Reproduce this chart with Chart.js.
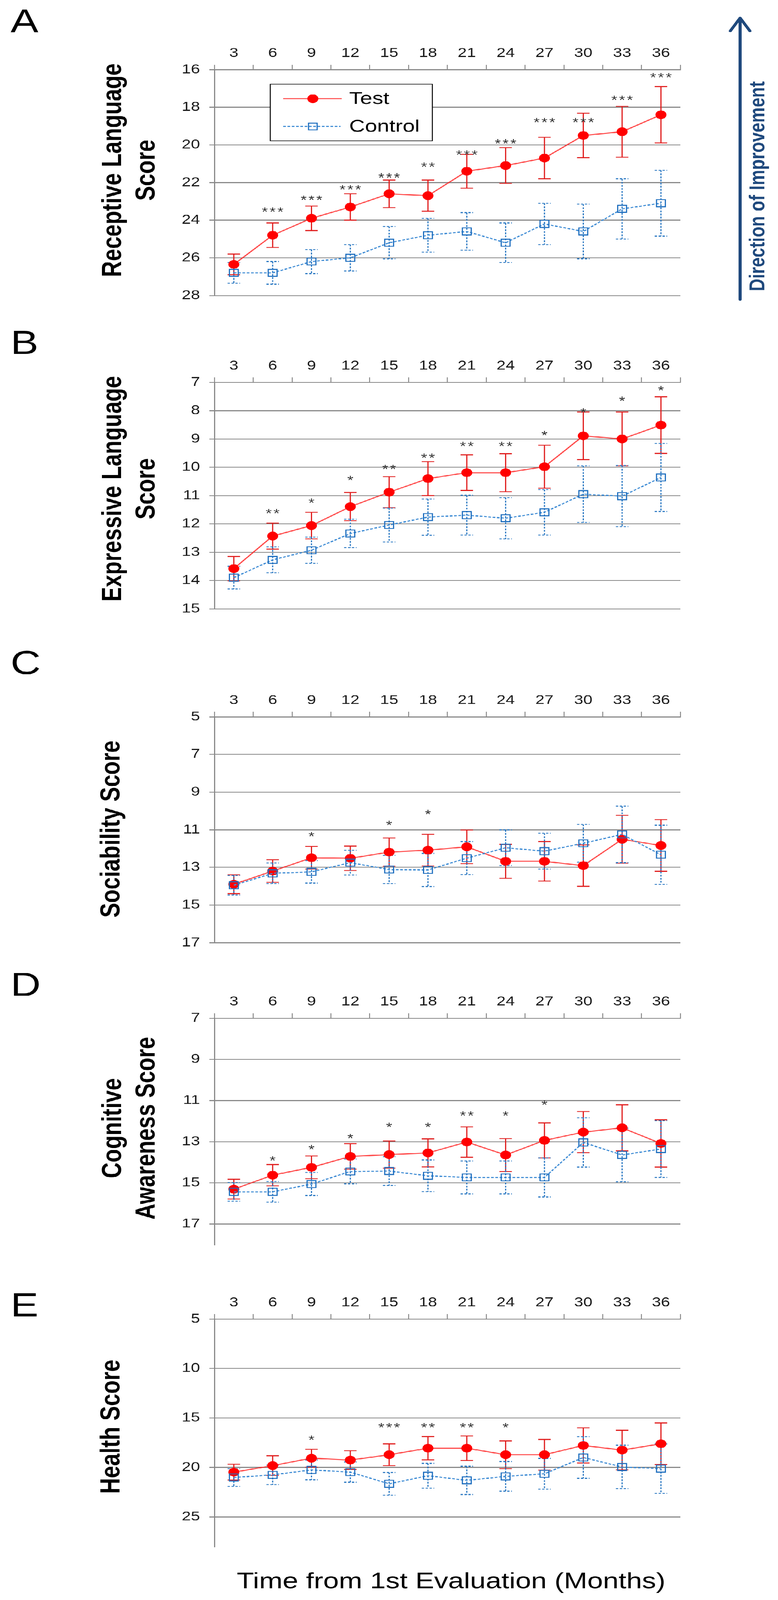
<!DOCTYPE html>
<html>
<head>
<meta charset="utf-8">
<script src="https://cdn.jsdelivr.net/npm/chart.js@4.4.1/dist/chart.umd.min.js"></script>
<style>
  html, body { margin: 0; padding: 0; background: #fff; overflow: hidden; }
  #figure { position: absolute; left: 0; top: 0; width: 1992px; height: 5172px; transform-origin: 0 0; }
  canvas { position: absolute; left: 0; }
</style>
</head>
<body>
<div id="figure">
  <canvas id="chartA"></canvas>
  <canvas id="chartB"></canvas>
  <canvas id="chartC"></canvas>
  <canvas id="chartD"></canvas>
  <canvas id="chartE"></canvas>
</div>
<script>
// Months from 1st evaluation
const months = ['3', '6', '9', '12', '15', '18', '21', '24', '27', '30', '33', '36'];

// A - Receptive language
const recTicks = [16, 18, 20, 22, 24, 26, 28];
const recTestMean = [26.35, 24.8, 23.9, 23.3, 22.6, 22.7, 21.4, 21.1, 20.7, 19.5, 19.3, 18.4];
const recTestErr = [0.55, 0.65, 0.65, 0.7, 0.73, 0.83, 0.9, 0.95, 1.1, 1.18, 1.35, 1.5];
const recCtrlMean = [26.8, 26.8, 26.2, 26.0, 25.2, 24.8, 24.6, 25.2, 24.2, 24.6, 23.4, 23.1];
const recCtrlErr = [0.55, 0.6, 0.64, 0.7, 0.86, 0.9, 1.0, 1.05, 1.1, 1.45, 1.6, 1.75];
const recStars = ['', '***', '***', '***', '***', '**', '***', '***', '***', '***', '***', '***'];
const recStarY = [null, 23.4, 22.77, 22.22, 21.59, 21.01, 20.38, 19.78, 18.65, 18.65, 17.47, 16.27];

// B - Expressive language
const expTicks = [7, 8, 9, 10, 11, 12, 13, 14, 15];
const expTestMean = [13.58, 12.43, 12.06, 11.39, 10.88, 10.4, 10.19, 10.19, 9.98, 8.89, 9.0, 8.51];
const expTestErr = [0.43, 0.46, 0.47, 0.5, 0.55, 0.6, 0.63, 0.67, 0.76, 0.84, 0.95, 1.0];
const expCtrlMean = [13.9, 13.27, 12.93, 12.34, 12.04, 11.76, 11.69, 11.8, 11.59, 10.95, 11.02, 10.36];
const expCtrlErr = [0.4, 0.46, 0.46, 0.5, 0.6, 0.64, 0.7, 0.73, 0.8, 1.0, 1.08, 1.2];
const expStars = ['', '**', '*', '*', '**', '**', '**', '**', '*', '*', '*', '*'];
const expStarY = [null, 11.53, 11.15, 10.36, 9.96, 9.57, 9.15, 9.15, 8.77, 7.96, 7.56, 7.19];

// C - Sociability
const socTicks = [5, 7, 9, 11, 13, 15, 17];
const socTestMean = [13.9, 13.2, 12.49, 12.52, 12.19, 12.09, 11.91, 12.68, 12.68, 12.91, 11.51, 11.84];
const socTestErr = [0.5, 0.6, 0.6, 0.65, 0.75, 0.84, 0.89, 0.9, 1.05, 1.1, 1.27, 1.37];
const socCtrlMean = [13.95, 13.32, 13.24, 12.75, 13.12, 13.14, 12.51, 11.96, 12.14, 11.72, 11.25, 12.33];
const socCtrlErr = [0.52, 0.55, 0.6, 0.66, 0.75, 0.88, 0.88, 0.95, 0.95, 1.0, 1.5, 1.57];
const socStars = ['', '', '*', '', '*', '*', '', '', '', '', '', ''];
const socStarY = [null, null, 11.2, null, 10.6, 10.03, null, null, null, null, null, null];

// D - Cognitive awareness
const cogTicks = [7, 9, 11, 13, 15, 17];
const cogTestMean = [15.31, 14.63, 14.25, 13.72, 13.63, 13.55, 13.02, 13.65, 12.94, 12.54, 12.33, 13.09];
const cogTestErr = [0.48, 0.52, 0.55, 0.62, 0.66, 0.68, 0.74, 0.8, 0.85, 1.0, 1.12, 1.15];
const cogCtrlMean = [15.44, 15.44, 15.06, 14.45, 14.43, 14.66, 14.74, 14.74, 14.74, 13.04, 13.65, 13.36];
const cogCtrlErr = [0.45, 0.5, 0.56, 0.6, 0.7, 0.77, 0.8, 0.8, 0.95, 1.2, 1.3, 1.38];
const cogStars = ['', '*', '*', '*', '*', '*', '**', '*', '*', '', '', ''];
const cogStarY = [null, 13.78, 13.24, 12.69, 12.16, 12.16, 11.6, 11.6, 11.07, null, null, null];

// E - Health
const hltTicks = [5, 10, 15, 20, 25];
const hltTestMean = [20.48, 19.82, 19.07, 19.26, 18.72, 18.06, 18.06, 18.72, 18.72, 17.78, 18.25, 17.61];
const hltTestErr = [0.8, 1.0, 0.9, 0.95, 1.1, 1.18, 1.25, 1.4, 1.55, 1.77, 2.0, 2.1];
const hltCtrlMean = [21.02, 20.76, 20.25, 20.48, 21.66, 20.84, 21.31, 20.91, 20.65, 19.0, 19.96, 20.13];
const hltCtrlErr = [0.9, 0.98, 1.0, 1.03, 1.15, 1.25, 1.43, 1.5, 1.55, 2.1, 2.2, 2.5];
const hltStars = ['', '', '*', '', '***', '**', '**', '*', '', '', '', ''];
const hltStarY = [null, null, 16.91, null, 15.66, 15.66, 15.66, 15.66, null, null, null, null];

// colours
const GRID = '#8a8a8a';
const TICK = '#1a1a1a';
const RED = '#ff0000';
const RED_LINE = 'rgba(255, 30, 30, 0.8)';
const RED_ERR = '#e01b1b';
const BLUE = '#1f6fbf';
const BLUE_LINE = '#3d8bd4';
const BLUE_ERR = '#2a78c2';
const NAVY = '#1f497d';
const FONT = "'Liberation Sans', Arial, sans-serif";

Chart.defaults.font.family = FONT;

// the window may be shorter than the figure: squeeze it vertically to fit
const FIG_H = 5172;
const fitY = Math.min(1, (window.innerHeight || FIG_H) / FIG_H);
document.getElementById('figure').style.transform = 'scale(1, ' + fitY + ')';

// panel layout (figure pixels)
const panels = {
    chartA: { top: 0, height: 1020, areaTop: 225, areaBottom: 955, min: 16, max: 28, ticks: recTicks,
        testMean: recTestMean, testErr: recTestErr, ctrlMean: recCtrlMean, ctrlErr: recCtrlErr,
        stars: recStars, starY: recStarY, letter: 'A', letterY: 105,
        title: ['Receptive Language', 'Score'], titleY: 550, legend: true, arrow: true },
    chartB: { top: 1000, height: 1030, areaTop: 1236, areaBottom: 1968, min: 7, max: 15, ticks: expTicks,
        testMean: expTestMean, testErr: expTestErr, ctrlMean: expCtrlMean, ctrlErr: expCtrlErr,
        stars: expStars, starY: expStarY, letter: 'B', letterY: 1144,
        title: ['Expressive Language', 'Score'], titleY: 1580 },
    chartC: { top: 2000, height: 1110, areaTop: 2317, areaBottom: 3047, min: 5, max: 17, ticks: socTicks,
        testMean: socTestMean, testErr: socTestErr, ctrlMean: socCtrlMean, ctrlErr: socCtrlErr,
        stars: socStars, starY: socStarY, letter: 'C', letterY: 2179,
        title: ['Sociability Score'], titleY: 2680 },
    chartD: { top: 3080, height: 1010, areaTop: 3291, areaBottom: 4023, min: 7, max: 18, ticks: cogTicks,
        testMean: cogTestMean, testErr: cogTestErr, ctrlMean: cogCtrlMean, ctrlErr: cogCtrlErr,
        stars: cogStars, starY: cogStarY, letter: 'D', letterY: 3219,
        title: ['Cognitive', 'Awareness Score'], titleY: 3647 },
    chartE: { top: 4040, height: 1132, areaTop: 4264, areaBottom: 4999, min: 5, max: 28, ticks: hltTicks,
        testMean: hltTestMean, testErr: hltTestErr, ctrlMean: hltCtrlMean, ctrlErr: hltCtrlErr,
        stars: hltStars, starY: hltStarY, letter: 'E', letterY: 4255,
        title: ['Health Score'], titleY: 4612, xTitle: true }
};

function drawErrorBars(chart, means, errs, color, dash) {
    const ctx = chart.ctx;
    const xs = chart.scales.x, ys = chart.scales.y;
    ctx.save();
    ctx.strokeStyle = color;
    ctx.lineWidth = 3;
    ctx.setLineDash(dash);
    means.forEach((m, i) => {
        const px = xs.getPixelForValue(i);
        const top = ys.getPixelForValue(m - errs[i]);
        const bot = ys.getPixelForValue(m + errs[i]);
        ctx.beginPath();
        ctx.moveTo(px, top); ctx.lineTo(px, bot);
        ctx.moveTo(px - 16, top); ctx.lineTo(px + 16, top);
        ctx.moveTo(px - 16, bot); ctx.lineTo(px + 16, bot);
        ctx.stroke();
    });
    ctx.restore();
}

function drawStars(chart, stars, starY) {
    const ctx = chart.ctx;
    const xs = chart.scales.x, ys = chart.scales.y;
    ctx.save();
    ctx.font = '40px ' + FONT;
    ctx.fillStyle = '#333';
    ctx.textAlign = 'center';
    ctx.textBaseline = 'alphabetic';
    stars.forEach((s, i) => {
        if (!s) return;
        const px = xs.getPixelForValue(i);
        const py = ys.getPixelForValue(starY[i]) + 23;
        for (let k = 0; k < s.length; k++) {
            ctx.fillText('*', px + (k - (s.length - 1) / 2) * 20, py);
        }
    });
    ctx.restore();
}

function drawLegend(ctx) {
    ctx.save();
    ctx.fillStyle = '#fff';
    ctx.fillRect(692, 272, 415, 183);
    ctx.strokeStyle = '#000';
    ctx.lineWidth = 2.5;
    ctx.strokeRect(692, 272, 415, 183);
    // Test
    ctx.strokeStyle = RED_LINE;
    ctx.lineWidth = 3.5;
    ctx.beginPath(); ctx.moveTo(725, 319); ctx.lineTo(875, 319); ctx.stroke();
    ctx.fillStyle = RED;
    ctx.beginPath(); ctx.arc(801, 319, 14, 0, Math.PI * 2); ctx.fill();
    // Control
    ctx.strokeStyle = BLUE_LINE;
    ctx.lineWidth = 3.5;
    ctx.setLineDash([7, 4]);
    ctx.beginPath(); ctx.moveTo(725, 409); ctx.lineTo(872, 409); ctx.stroke();
    ctx.setLineDash([]);
    ctx.strokeStyle = BLUE;
    ctx.lineWidth = 3;
    ctx.strokeRect(790, 398, 22, 22);
    ctx.fillStyle = '#000';
    ctx.font = '56px ' + FONT;
    ctx.textAlign = 'left';
    ctx.textBaseline = 'middle';
    ctx.fillText('Test', 894, 321);
    ctx.fillText('Control', 894, 411);
    ctx.restore();
}

const extrasPlugin = {
    id: 'extras',
    beforeDatasetsDraw(chart) {
        const p = panels[chart.canvas.id];
        drawErrorBars(chart, p.testMean, p.testErr, RED_ERR, []);
        drawErrorBars(chart, p.ctrlMean, p.ctrlErr, BLUE_ERR, [6, 4]);
    },
    afterDatasetsDraw(chart) {
        const p = panels[chart.canvas.id];
        drawStars(chart, p.stars, p.starY);
        if (p.legend) drawLegend(chart.ctx);
    },
    afterDraw(chart) {
        const p = panels[chart.canvas.id];
        const ctx = chart.ctx;
        ctx.save();
        // panel letter
        ctx.fillStyle = '#000';
        ctx.font = '107px ' + FONT;
        ctx.textAlign = 'left';
        ctx.textBaseline = 'alphabetic';
        ctx.fillText(p.letter, 27, p.letterY - p.top);
        // y title, rotated
        ctx.font = 'bold 71px ' + FONT;
        ctx.textAlign = 'center';
        const baseX = p.title.length > 1 ? [310, 396] : [306];
        p.title.forEach((line, i) => {
            ctx.save();
            ctx.translate(baseX[i], p.titleY - p.top);
            ctx.rotate(-Math.PI / 2);
            ctx.fillText(line, 0, 0);
            ctx.restore();
        });
        // direction arrow
        if (p.arrow) {
            ctx.strokeStyle = NAVY;
            ctx.lineWidth = 8;
            ctx.lineCap = 'round';
            ctx.lineJoin = 'round';
            ctx.beginPath();
            ctx.moveTo(1895, 968); ctx.lineTo(1895, 60);
            ctx.moveTo(1870, 100); ctx.lineTo(1895, 58); ctx.lineTo(1920, 100);
            ctx.stroke();
            ctx.fillStyle = NAVY;
            ctx.font = 'bold 56px ' + FONT;
            ctx.translate(1957, 602);
            ctx.rotate(-Math.PI / 2);
            ctx.fillText('Direction of Improvement', 0, 0);
        }
        ctx.restore();
        if (p.xTitle) {
            ctx.save();
            ctx.fillStyle = '#000';
            ctx.font = '72px ' + FONT;
            ctx.textAlign = 'center';
            ctx.textBaseline = 'alphabetic';
            ctx.fillText('Time from 1st Evaluation (Months)', 1155, 5134 - p.top);
            ctx.restore();
        }
    }
};

function makeChart(id) {
    const p = panels[id];
    const canvas = document.getElementById(id);
    canvas.width = 1992;
    canvas.height = p.height;
    canvas.style.width = '1992px';
    canvas.style.height = p.height + 'px';
    canvas.style.top = p.top + 'px';

    return new Chart(canvas, {
        type: 'line',
        data: {
            labels: months,
            datasets: [
                {
                    label: 'Test',
                    data: p.testMean,
                    order: 1,
                    borderColor: RED_LINE,
                    borderWidth: 3.5,
                    pointStyle: 'circle',
                    pointRadius: 14,
                    pointBackgroundColor: RED,
                    pointBorderWidth: 0,
                    tension: 0
                },
                {
                    label: 'Control',
                    data: p.ctrlMean,
                    order: 0,
                    borderColor: BLUE_LINE,
                    borderWidth: 3.5,
                    borderDash: [7, 4],
                    pointStyle: 'rect',
                    pointRadius: 16,
                    pointBackgroundColor: 'rgba(255,255,255,0)',
                    pointBorderColor: BLUE,
                    pointBorderWidth: 3,
                    tension: 0
                }
            ]
        },
        options: {
            responsive: false,
            animation: false,
            devicePixelRatio: 1,
            layout: {
                padding: { left: 0, top: 0, right: 250, bottom: p.top + p.height - p.areaBottom }
            },
            plugins: {
                legend: { display: false },
                tooltip: { enabled: false }
            },
            scales: {
                x: {
                    type: 'category',
                    position: 'top',
                    offset: true,
                    grid: { offset: true, drawOnChartArea: false, tickLength: 16, color: GRID, lineWidth: 2.5 },
                    border: { display: true, color: GRID, width: 3 },
                    ticks: { font: { size: 42 }, color: TICK, padding: 11, maxRotation: 0, autoSkip: false },
                    afterFit: (scale) => { scale.height = p.areaTop - p.top; }
                },
                y: {
                    reverse: true,
                    min: p.min,
                    max: p.max,
                    afterBuildTicks: (scale) => { scale.ticks = p.ticks.map(v => ({ value: v })); },
                    grid: { color: GRID, lineWidth: 3, tickLength: 13 },
                    border: { display: true, color: GRID, width: 3 },
                    ticks: { font: { size: 42 }, color: TICK, padding: 24 },
                    afterFit: (scale) => { scale.width = 549; }
                }
            }
        },
        plugins: [extrasPlugin]
    });
}

Object.keys(panels).forEach(makeChart);
</script>
</body>
</html>
